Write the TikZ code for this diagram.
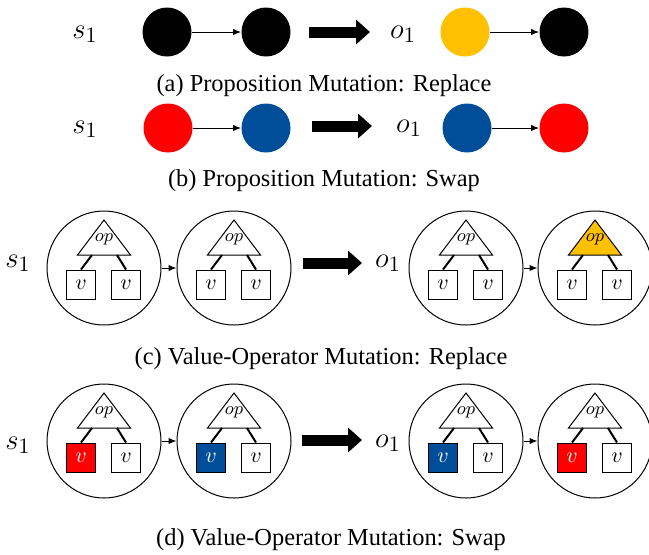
\documentclass[tikz,border=0pt]{standalone}
\usepackage{fontspec}
\setmainfont{Liberation Serif}
\usetikzlibrary{positioning}
\usetikzlibrary{arrows.meta}

% one state circle holding an operator with two values
% #1 name, #2 x, #3 y, #4 operator fill, #5 left value fill, #6 left value text
\newcommand{\optree}[6]{%
    \node[state] (#1) at (#2,#3) {};
    \draw[line width=0.5pt,fill=#4] (#2,#3-48) -- (#2+26.5,#3-13) -- (#2-26.5,#3-13) -- cycle;
    \node[oper] (#1op) at (#2,#3-29) {$op$};
    \node[val,fill=#5,text=#6] (#1l) at (#2-23,#3+16.5) {$v$};
    \node[val] (#1r) at (#2+22,#3+16.5) {$v$};
    \coordinate (#1bl) at (#2-12,#3-13);
    \coordinate (#1br) at (#2+13,#3-13);
    \draw[line width=1pt] (#1bl) -- (#1l.north);
    \draw[line width=1pt] (#1br) -- (#1r.north);
}

\begin{document}
\begin{tikzpicture}
    [%%%%%%%%%%%%%%%%%%%%%%%%%%%%%%
        x=0.5pt,y=-0.5pt,
        dot/.style={circle,minimum size=24.5pt,inner sep=0pt},
        state/.style={circle,draw=black,line width=0.5pt,minimum size=57pt,inner sep=0pt},
        val/.style={rectangle,draw=black,line width=0.5pt,minimum size=14.5pt,inner sep=0pt,font=\fontsize{11}{13}\selectfont},
        oper/.style={inner sep=0pt,font=\fontsize{9.5}{11}\selectfont},
        lbl/.style={inner sep=0pt,font=\fontsize{15}{18}\selectfont},
        subcap/.style={inner sep=0pt,font=\fontsize{12.2}{14}\selectfont},
        link/.style={-{Latex[length=4pt,width=3.2pt]},line width=0.5pt},
        bigarrow/.style={line width=5.5pt,-{Triangle[length=7pt,width=12pt]}}
    ]%%%%%%%%%%%%%%%%%%%%%%%%%%%%%%
\definecolor{gold}{RGB}{255,192,0}
\definecolor{pred}{RGB}{255,0,0}
\definecolor{pblue}{RGB}{0,77,153}
\useasboundingbox (0,0) rectangle (649,554);

% (a)
\node[lbl] (sa) at (85,34) {$s_1$};
\node[dot,fill=black] (a1) at (167,32) {};
\node[dot,fill=black] (a2) at (266,32) {};
\coordinate (aL) at (309,32);
\coordinate (aR) at (370,32);
\draw[bigarrow] (aL) -- (aR);
\node[lbl] (oa) at (403,34) {$o_1$};
\node[dot,fill=gold] (a3) at (465,32) {};
\node[dot,fill=black] (a4) at (564,32) {};
\draw[link] (a1) -- (a2);
\draw[link] (a3) -- (a4);
\node[subcap] (capa) at (324,86) {(a) Proposition Mutation: Replace};

% (b)
\node[lbl] (sb) at (85,129) {$s_1$};
\node[dot,fill=pred] (b1) at (168,128) {};
\node[dot,fill=pblue] (b2) at (266,128) {};
\coordinate (bL) at (312,126);
\coordinate (bR) at (372,126);
\draw[bigarrow] (bL) -- (bR);
\node[lbl] (ob) at (409,128) {$o_1$};
\node[dot,fill=pblue] (b3) at (467,128) {};
\node[dot,fill=pred] (b4) at (564,128) {};
\draw[link] (b1) -- (b2);
\draw[link] (b3) -- (b4);
\node[subcap] (capb) at (324,181) {(b) Proposition Mutation: Swap};

% (c)
\node[lbl] (sc) at (18,263) {$s_1$};
\optree{c1}{104}{268}{white}{white}{black}
\optree{c2}{234}{268}{white}{white}{black}
\coordinate (cL) at (303,263);
\coordinate (cR) at (362,263);
\draw[bigarrow] (cL) -- (cR);
\node[lbl] (oc) at (388,263) {$o_1$};
\optree{c3}{466}{268}{white}{white}{black}
\optree{c4}{595}{268}{gold}{white}{black}
\draw[link] (c1) -- (c2);
\draw[link] (c3) -- (c4);
\node[subcap] (capc) at (321,359) {(c) Value-Operator Mutation: Replace};

% (d)
\node[lbl] (sd) at (18,445) {$s_1$};
\optree{d1}{104}{441}{white}{pred}{white}
\optree{d2}{234}{441}{white}{pblue}{white}
\coordinate (dL) at (302,440);
\coordinate (dR) at (362,440);
\draw[bigarrow] (dL) -- (dR);
\node[lbl] (od) at (388,443) {$o_1$};
\optree{d3}{466}{441}{white}{pblue}{white}
\optree{d4}{595}{441}{white}{pred}{white}
\draw[link] (d1) -- (d2);
\draw[link] (d3) -- (d4);
\node[subcap] (capd) at (331,540) {(d) Value-Operator Mutation: Swap};

\end{tikzpicture}
\end{document}
